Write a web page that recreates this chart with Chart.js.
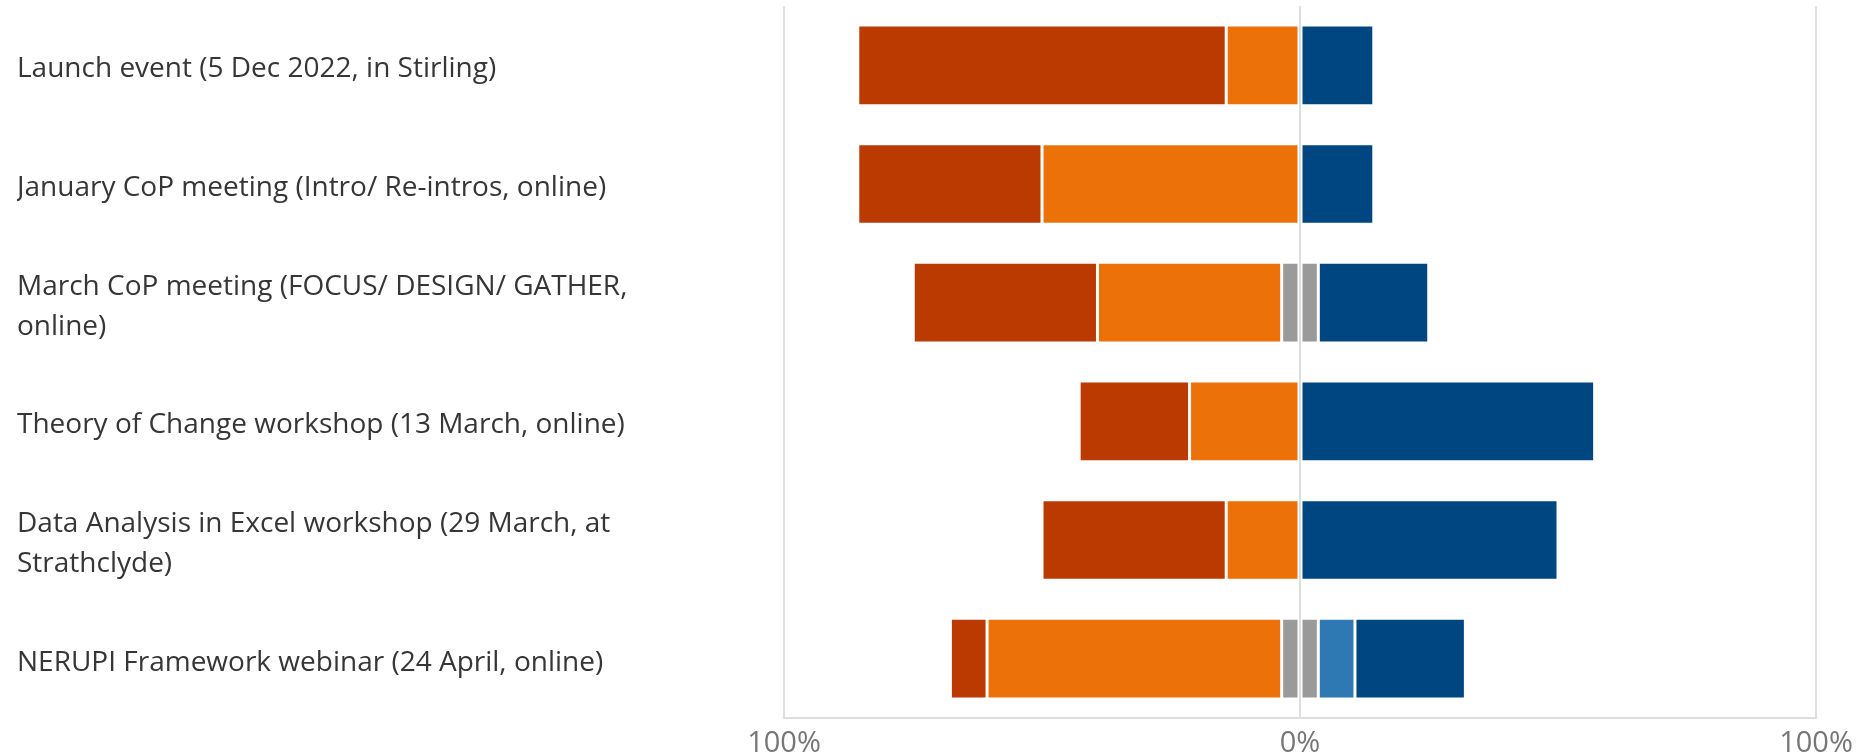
<!DOCTYPE html>
<html>
<head>
<meta charset="utf-8">
<script src="https://cdn.jsdelivr.net/npm/chart.js@4"></script>
<style>
html,body{margin:0;padding:0;background:#fff;overflow:hidden;}
#wrap{width:1865px;height:753px;position:relative;}
</style>
</head>
<body>
<div id="wrap"><canvas id="c"></canvas></div>
<script>
const categories = [
  "Launch event (5 Dec 2022, in Stirling)",
  "January CoP meeting (Intro/ Re-intros, online)",
  ["March CoP meeting (FOCUS/ DESIGN/ GATHER,", "online)"],
  "Theory of Change workshop (13 March, online)",
  ["Data Analysis in Excel workshop (29 March, at", "Strathclyde)"],
  "NERUPI Framework webinar (24 April, online)"
];
// percentages of responses
const stronglyNegative = [71.4, 35.7, 35.7, 21.4, 35.7, 7.1];
const negative         = [14.3, 50.0, 35.7, 21.4, 14.3, 57.1];
const neutral          = [0, 0, 7.1, 0, 0, 7.1];
const positive         = [0, 0, 0, 0, 0, 7.1];
const stronglyPositive = [14.3, 14.3, 21.4, 57.1, 50.0, 21.4];
const xTicks = [-100, 0, 100];

const half = neutral.map(v => v / 2);
const border = 'rgba(255,255,255,0.35)';
const ds = (label, data, color) => ({
  label, data, backgroundColor: color, borderColor: border, borderWidth: 1.5,
  borderSkipped: false, barPercentage: 0.68, categoryPercentage: 1, stack: 's'
});

new Chart(document.getElementById('c'), {
  type: 'bar',
  data: {
    labels: categories,
    datasets: [
      ds('Neutral (left)', half.map(v => -v), '#9a9a9a'),
      ds('Negative', negative.map(v => -v), '#eb7108'),
      ds('Strongly negative', stronglyNegative.map(v => -v), '#ba3a02'),
      ds('Neutral (right)', half, '#9a9a9a'),
      ds('Positive', positive, '#2e78b3'),
      ds('Strongly positive', stronglyPositive, '#004680')
    ]
  },
  options: {
    indexAxis: 'y',
    responsive: true,
    maintainAspectRatio: false,
    animation: false,
    layout: { padding: { left: 17, right: 49, top: 6, bottom: 0 } },
    plugins: { legend: { display: false }, tooltip: { enabled: false } },
    scales: {
      x: {
        stacked: true, min: -100, max: 100,
        afterBuildTicks: s => { s.ticks = xTicks.map(v => ({ value: v })); },
        afterFit: s => { s.height = 35; s.paddingLeft = 0; s.paddingRight = 0; },
        ticks: {
          callback: v => Math.abs(v) + '%',
          color: '#767676', padding: 8,
          font: { family: 'Open Sans', size: 29 }
        },
        grid: { color: '#dedede', lineWidth: 2, drawTicks: false },
        border: { display: true, color: '#dedede', width: 2 }
      },
      y: {
        stacked: true,
        afterFit: s => { s.width = 767; s.paddingTop = 0; s.paddingBottom = 0; },
        ticks: {
          crossAlign: 'far', color: '#363636', padding: 0, labelOffset: 4,
          font: { family: 'Open Sans', size: 28, lineHeight: 1.42 }
        },
        grid: { display: false, drawTicks: false },
        border: { display: false }
      }
    }
  }
});
</script>
</body>
</html>
